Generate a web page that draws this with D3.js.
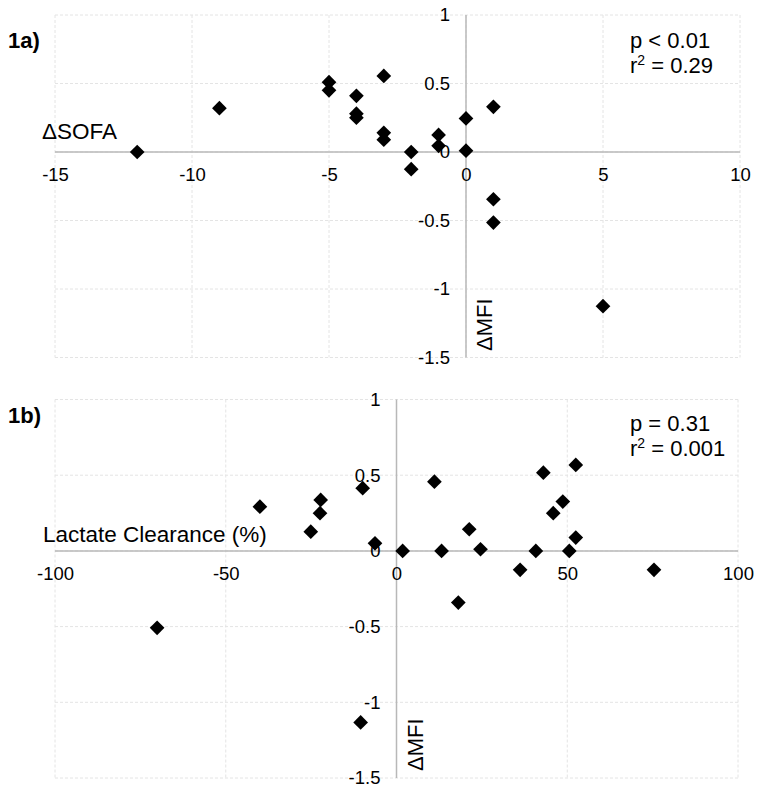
<!DOCTYPE html>
<html>
<head>
<meta charset="utf-8">
<script src="https://cdn.jsdelivr.net/npm/d3@7"></script>
<style>
  body { margin: 0; background: #fff; }
  svg { display: block; }
  text { font-family: "Liberation Sans", Arial, sans-serif; fill: #000; }
</style>
</head>
<body>
<svg id="chart" width="762" height="794"></svg>
<script>
// ---- Data ----
const sofaDelta = [-12, -9, -5, -5, -4, -4, -4, -3, -3, -3, -2, -2, -1, -1, 0, 0, 1, 1, 1, 5];
const mfiDeltaA = [0.00, 0.32, 0.51, 0.45, 0.41, 0.28, 0.25, 0.555, 0.14, 0.09, 0.00, -0.125, 0.125, 0.045, 0.245, 0.01, 0.33, -0.345, -0.515, -1.125];

const lactateClearance = [-70.1, -40, -25.1, -22.2, -22.4, -9.9, -10.5, -6.3, 1.8, 11.1, 13.2, 18.1, 21.3, 24.6, 36.2, 40.8, 43.0, 45.9, 48.7, 50.6, 52.5, 52.5, 75.4];
const mfiDeltaB = [-0.508, 0.292, 0.127, 0.337, 0.249, 0.414, -1.133, 0.05, 0.0, 0.457, 0.0, -0.341, 0.143, 0.011, -0.125, 0.0, 0.517, 0.249, 0.326, 0.0, 0.568, 0.088, -0.125];

const xTicksA = [-15, -10, -5, 0, 5, 10];
const xTicksB = [-100, -50, 0, 50, 100];
const yTicks = [-1.5, -1, -0.5, 0, 0.5, 1];

const panels = [
  {
    label: "1a)", xTitle: "\u0394SOFA", yTitle: "\u0394MFI",
    xs: sofaDelta, ys: mfiDeltaA, xTicks: xTicksA,
    xDomain: [-15, 10], xRange: [55, 740], yRange: [357.5, 15],
    stat1: "p < 0.01", stat2: "0.29",
    labelY: 48, xTitlePos: [42, 139], yTitlePos: [492, 351], statY: 48
  },
  {
    label: "1b)", xTitle: "Lactate Clearance (%)", yTitle: "\u0394MFI",
    xs: lactateClearance, ys: mfiDeltaB, xTicks: xTicksB,
    xDomain: [-100, 100], xRange: [55, 738], yRange: [778, 399.5],
    stat1: "p = 0.31", stat2: "0.001",
    labelY: 423, xTitlePos: [43, 542], yTitlePos: [423, 771], statY: 431
  }
];

const svg = d3.select("#chart");
const diamond = d3.symbol(d3.symbolSquare, 108);

panels.forEach(p => {
  const x = d3.scaleLinear().domain(p.xDomain).range(p.xRange);
  const y = d3.scaleLinear().domain([-1.5, 1]).range(p.yRange);
  const g = svg.append("g");

  // gridlines
  g.append("g").selectAll("line.vg").data(p.xTicks).join("line")
    .attr("x1", d => x(d)).attr("x2", d => x(d))
    .attr("y1", y(1)).attr("y2", y(-1.5))
    .attr("stroke", "#e4e4e4").attr("stroke-width", 1).attr("stroke-dasharray", "3,2");
  g.append("g").selectAll("line.hg").data(yTicks).join("line")
    .attr("x1", x(p.xDomain[0])).attr("x2", x(p.xDomain[1]))
    .attr("y1", d => y(d)).attr("y2", d => y(d))
    .attr("stroke", "#e4e4e4").attr("stroke-width", 1).attr("stroke-dasharray", "3,2");

  // zero axes
  g.append("line")
    .attr("x1", x(p.xDomain[0])).attr("x2", x(p.xDomain[1]))
    .attr("y1", y(0)).attr("y2", y(0))
    .attr("stroke", "#b8b8b8").attr("stroke-width", 1.5);
  g.append("line")
    .attr("x1", x(0)).attr("x2", x(0))
    .attr("y1", y(1)).attr("y2", y(-1.5))
    .attr("stroke", "#b8b8b8").attr("stroke-width", 1.5);

  // axis tick labels via d3 axes
  const xa = g.append("g").attr("transform", `translate(0,${y(0)})`)
    .call(d3.axisBottom(x).tickValues(p.xTicks).tickFormat(d => String(d))
      .tickSize(0).tickPadding(16));
  const ya = g.append("g").attr("transform", `translate(${x(0)},0)`)
    .call(d3.axisLeft(y).tickValues(yTicks).tickFormat(d => String(d))
      .tickSize(0).tickPadding(16));
  [xa, ya].forEach(a => {
    a.select(".domain").remove();
    a.selectAll("text").style("font-family", "'Liberation Sans', Arial, sans-serif")
      .style("font-size", "18.5px").attr("fill", "#000");
  });

  // points
  g.append("g").selectAll("path").data(p.xs.map((v, i) => [v, p.ys[i]])).join("path")
    .attr("d", diamond)
    .attr("transform", d => `translate(${x(d[0])},${y(d[1])}) rotate(45)`)
    .attr("fill", "#000");

  // labels
  g.append("text").attr("x", 8).attr("y", p.labelY)
    .style("font-size", "22px").style("font-weight", "bold").text(p.label);
  g.append("text").attr("x", p.xTitlePos[0]).attr("y", p.xTitlePos[1])
    .style("font-size", "22.5px").text(p.xTitle);
  g.append("text")
    .attr("transform", `translate(${p.yTitlePos[0]},${p.yTitlePos[1]}) rotate(-90)`)
    .style("font-size", "22px").text(p.yTitle);

  // stats
  g.append("text").attr("x", 630).attr("y", p.statY)
    .style("font-size", "22px").text(p.stat1);
  const t2 = g.append("text").attr("x", 630).attr("y", p.statY + 25)
    .style("font-size", "22px");
  t2.append("tspan").text("r");
  t2.append("tspan").attr("dy", -8).style("font-size", "14px").text("2");
  t2.append("tspan").attr("dy", 8).text(" = " + p.stat2);
});
</script>
</body>
</html>
